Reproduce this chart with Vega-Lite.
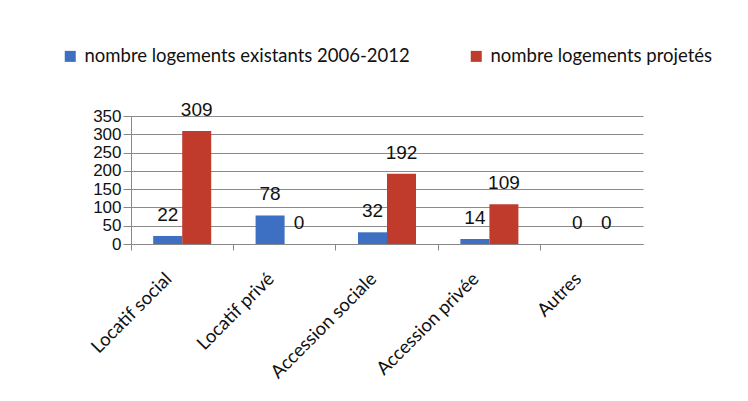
{
  "$schema": "https://vega.github.io/schema/vega-lite/v6.json",
  "width": 512,
  "height": 128,
  "autosize": {"type": "none"},
  "padding": {"left": 131, "top": 116, "right": 105, "bottom": 157},
  "background": "white",
  "data": {"values": [
    {"categorie": "Locatif social", "serie": "nombre logements existants 2006-2012", "valeur": 22},
    {"categorie": "Locatif social", "serie": "nombre logements projetés", "valeur": 309},
    {"categorie": "Locatif privé", "serie": "nombre logements existants 2006-2012", "valeur": 78},
    {"categorie": "Locatif privé", "serie": "nombre logements projetés", "valeur": 0},
    {"categorie": "Accession sociale", "serie": "nombre logements existants 2006-2012", "valeur": 32},
    {"categorie": "Accession sociale", "serie": "nombre logements projetés", "valeur": 192},
    {"categorie": "Accession privée", "serie": "nombre logements existants 2006-2012", "valeur": 14},
    {"categorie": "Accession privée", "serie": "nombre logements projetés", "valeur": 109},
    {"categorie": "Autres", "serie": "nombre logements existants 2006-2012", "valeur": 0},
    {"categorie": "Autres", "serie": "nombre logements projetés", "valeur": 0}
  ]},
  "encoding": {
    "x": {"field": "categorie", "type": "nominal", "sort": null,
          "scale": {"paddingInner": 0, "paddingOuter": 0}},
    "xOffset": {"field": "serie", "type": "nominal",
                "scale": {"paddingInner": 0, "paddingOuter": 0.765}},
    "y": {"field": "valeur", "type": "quantitative",
          "scale": {"domain": [0, 350], "nice": false},
          "axis": {"title": null, "values": [0, 50, 100, 150, 200, 250, 300, 350], "tickCount": 8,
                   "labelOverlap": false, "labelFlush": false,
                   "labelFont": "Liberation Sans", "labelFontSize": 17, "labelColor": "#111",
                   "tickSize": 8, "tickColor": "#888", "labelPadding": 2,
                   "domainColor": "#888", "grid": true, "gridColor": "#8a8a8a", "gridWidth": 1}}
  },
  "layer": [
    {
      "mark": {"type": "bar"},
      "encoding": {
        "x": {"field": "categorie", "type": "nominal", "sort": null,
              "axis": {"title": null, "labelAngle": -45, "labelFont": "Lato", "labelFontSize": 18.5,
                       "labelColor": "#111", "ticks": false, "domain": true, "domainColor": "#888",
                       "labelPadding": 25, "labelOffset": -20, "grid": false, "orient": "bottom", "labelLimit": 0}},
        "color": {"field": "serie", "type": "nominal",
                  "scale": {"domain": ["nombre logements existants 2006-2012", "nombre logements projetés"],
                            "range": ["#3D6FC2", "#C13B2C"]},
                  "legend": {"title": null, "orient": "none", "legendX": -70, "legendY": -69,
                             "direction": "horizontal", "columns": 2, "columnPadding": 57,
                             "symbolType": "square", "symbolSize": 121, "symbolStrokeWidth": 0,
                             "labelFont": "Lato", "labelFontSize": 18.5, "labelColor": "#111",
                             "labelOffset": 5, "labelLimit": 0}}
      }
    },
    {
      "mark": {"type": "text", "baseline": "alphabetic", "dy": -15, "font": "Liberation Sans",
               "fontSize": 19, "color": "#111"},
      "encoding": {
        "x": {"field": "categorie", "type": "nominal", "sort": null,
              "axis": {"title": null, "labels": false, "domain": false, "ticks": true,
                       "bandPosition": 0, "tickSize": 6, "tickColor": "#888", "grid": false,
                       "orient": "bottom"}},
        "text": {"field": "valeur", "type": "quantitative"}
      }
    }
  ],
  "resolve": {"axis": {"x": "independent"}},
  "config": {"view": {"stroke": null}}
}
